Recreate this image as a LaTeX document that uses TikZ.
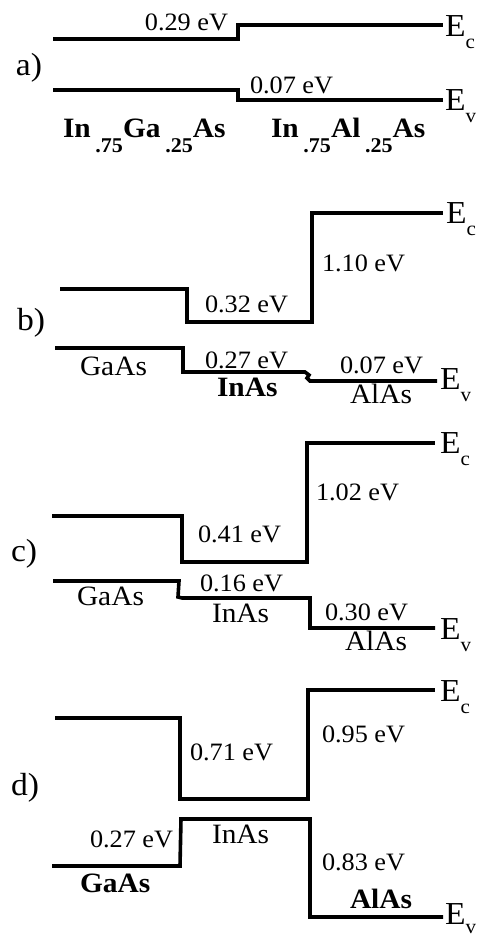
\documentclass[tikz,border=0pt]{standalone}
\usepackage{fontspec}
\setmainfont[FakeStretch=1.05]{Liberation Serif}
\newcommand{\lblfont}{\fontsize{25}{28}\selectfont}
\newcommand{\matfont}{\fontsize{28}{30}\selectfont}
\newcommand{\bldfont}{\fontsize{28}{30}\selectfont\bfseries}
\newcommand{\Efont}{\fontsize{32}{34}\selectfont}
\newcommand{\subfnt}{\fontsize{20}{20}\selectfont}
\newcommand{\Eband}[1]{E\raisebox{-12pt}{\subfnt #1}}
\newcommand{\lowsub}[1]{\,\raisebox{-15pt}{\fontsize{21}{21}\selectfont #1}}
\tikzset{
  band/.style={line width=3.6pt, line join=miter, line cap=butt},
  lbl/.style={inner sep=0pt, outer sep=0pt, anchor=base west, font=\lblfont},
  lble/.style={lbl, anchor=base east},
  mat/.style={lbl, font=\matfont},
  bld/.style={lbl, font=\bldfont},
  frm/.style={lbl, font=\fontsize{28}{30}\selectfont\bfseries},
  elbl/.style={inner sep=0pt, outer sep=0pt, anchor=base west, font=\Efont},
  plbl/.style={inner sep=0pt, outer sep=0pt, anchor=base west, font=\fontsize{32}{34}\selectfont},
}
\begin{document}
\begin{tikzpicture}[x=1pt,y=-1pt]
\useasboundingbox (0,0) rectangle (481,937);
% ---------- a)
\draw[band] (53,39) -- (238,39) -- (238,25) -- (443,25);
\draw[band] (53,90) -- (238,90) -- (238,100) -- (443,100);
\node[plbl] (la) at (16,75) {a)};
\node[lble] (a1) at (228,30) {0.29 eV};
\node[lbl] (a2) at (250,93) {0.07 eV};
\node[elbl] (aEc) at (445,36) {\Eband{c}};
\node[elbl] (aEv) at (445,110) {\Eband{v}};
\node[frm] (am1) at (63,137) {In\lowsub{.75}Ga\lowsub{.25}As};
\node[frm] (am2) at (271,137) {In\lowsub{.75}Al\lowsub{.25}As};
% ---------- b)
\draw[band] (60,289) -- (187,289) -- (187,322) -- (312,322) -- (312,213) -- (443,213);
\draw[band] (55,348) -- (183,348) -- (183,372) -- (305,372) -- (309,375) -- (307,378) -- (310,381) -- (437,381);
\node[plbl] (lb) at (17,330) {b)};
\node[lbl] (b1) at (322,271) {1.10 eV};
\node[lbl] (b2) at (205,312) {0.32 eV};
\node[mat] (b3) at (80,375) {GaAs};
\node[lbl] (b4) at (205,368) {0.27 eV};
\node[bld] (b5) at (217,396) {InAs};
\node[lbl] (b6) at (340,373) {0.07 eV};
\node[mat] (b7) at (350,403) {AlAs};
\node[elbl] (bEc) at (446,223) {\Eband{c}};
\node[elbl] (bEv) at (440,389) {\Eband{v}};
% ---------- c)
\draw[band] (52,516) -- (182,516) -- (182,562) -- (307,562) -- (307,443) -- (435,443);
\draw[band] (53,581) -- (179,581) -- (178,597) -- (182,598) -- (310,598) -- (310,628) -- (435,628);
\node[plbl] (lc) at (11,561) {c)};
\node[lbl] (c1) at (316,500) {1.02 eV};
\node[lbl] (c2) at (198,542) {0.41 eV};
\node[mat] (c3) at (77,605) {GaAs};
\node[lbl] (c4) at (200,591) {0.16 eV};
\node[mat] (c5) at (212,622) {InAs};
\node[lbl] (c6) at (325,620) {0.30 eV};
\node[mat] (c7) at (345,650) {AlAs};
\node[elbl] (cEc) at (440,453) {\Eband{c}};
\node[elbl] (cEv) at (440,639) {\Eband{v}};
% ---------- d)
\draw[band] (55,718) -- (180,718) -- (180,799) -- (308,799) -- (308,690) -- (435,690);
\draw[band] (52,866) -- (180,866) -- (181,819) -- (310,819) -- (310,917) -- (443,917);
\node[plbl] (ld) at (11,795) {d)};
\node[lbl] (d1) at (190,760) {0.71 eV};
\node[lbl] (d2) at (322,742) {0.95 eV};
\node[lbl] (d3) at (90,847) {0.27 eV};
\node[mat] (d4) at (212,843) {InAs};
\node[lbl] (d5) at (322,870) {0.83 eV};
\node[bld] (d6) at (80,892) {GaAs};
\node[bld] (d7) at (350,908) {AlAs};
\node[elbl] (dEc) at (440,701) {\Eband{c}};
\node[elbl] (dEv) at (445,924) {E\raisebox{-9pt}{\subfnt v}};
\end{tikzpicture}
\end{document}
